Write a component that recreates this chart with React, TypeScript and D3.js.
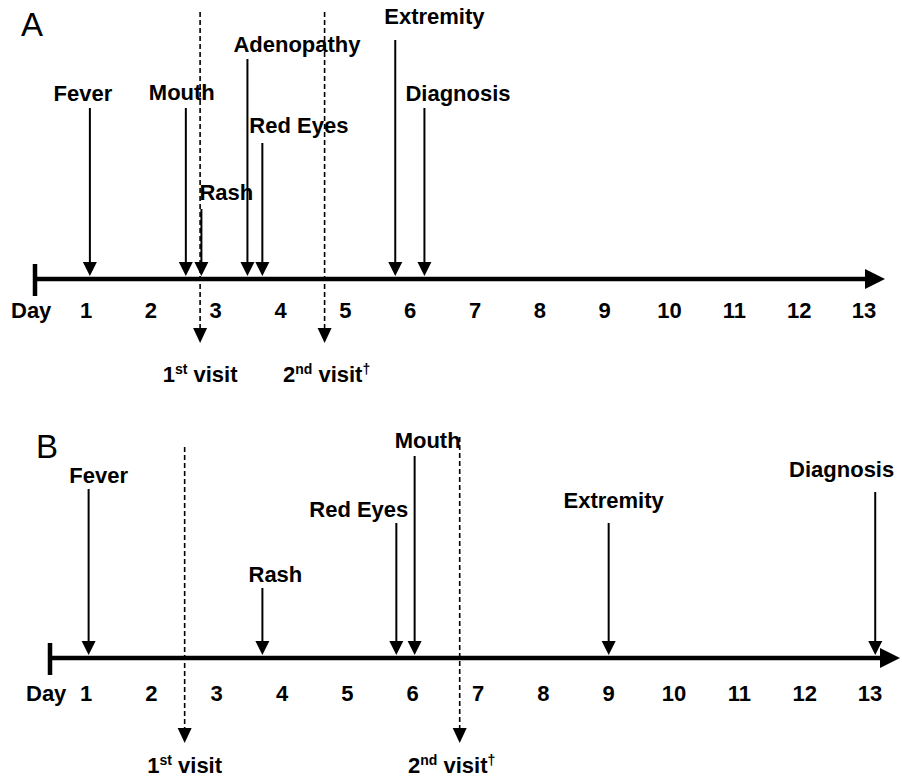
import * as d3 from "d3";

// day numbers under the time axis
const dayTicks = [1, 2, 3, 4, 5, 6, 7, 8, 9, 10, 11, 12, 13];

// panel A: symptom onset (in days)
const eventsA = ["Fever", "Mouth", "Rash", "Adenopathy", "Red Eyes", "Extremity", "Diagnosis"];
const eventDaysA = [1.06, 2.54, 2.78, 3.49, 3.72, 5.77, 6.22];
const visitDaysA = [2.76, 4.68];

// panel B
const eventsB = ["Fever", "Rash", "Red Eyes", "Mouth", "Extremity", "Diagnosis"];
const eventDaysB = [1.04, 3.7, 5.75, 6.03, 9.0, 13.08];
const visitDaysB = [2.51, 6.72];

// number, superscript, trailing mark
const visitLabels = [
  ["1", "st", ""],
  ["2", "nd", "†"],
];

type Anchor = "start" | "middle" | "end";
type LabelPos = { anchor: Anchor; dx: number; y: number; top: number };

// where each label sits relative to its arrow (layout only)
const layoutA: Record<string, LabelPos> = {
  Fever: { anchor: "middle", dx: -7, y: 101, top: 108 },
  Mouth: { anchor: "middle", dx: -4, y: 100, top: 108 },
  Rash: { anchor: "start", dx: -2, y: 200, top: 209 },
  Adenopathy: { anchor: "start", dx: -14, y: 52, top: 59 },
  "Red Eyes": { anchor: "start", dx: -13, y: 133, top: 143 },
  Extremity: { anchor: "start", dx: -11, y: 24, top: 40 },
  Diagnosis: { anchor: "start", dx: -19, y: 101, top: 108 },
};

const layoutB: Record<string, LabelPos> = {
  Fever: { anchor: "middle", dx: 10, y: 483, top: 489 },
  Rash: { anchor: "middle", dx: 13, y: 582, top: 588 },
  "Red Eyes": { anchor: "end", dx: 12, y: 517, top: 523 },
  Mouth: { anchor: "start", dx: -20, y: 448, top: 456 },
  Extremity: { anchor: "middle", dx: 5, y: 508, top: 523 },
  Diagnosis: { anchor: "end", dx: 19, y: 477, top: 492 },
};

const FONT = "'Liberation Sans', Arial, Helvetica, sans-serif";
const FS = 22;

type TimelineProps = {
  letter: string;
  letterY: number;
  axisY: number;
  barX: number;
  tipX: number;
  range: [number, number];
  dayY: number;
  events: string[];
  eventDays: number[];
  layout: Record<string, LabelPos>;
  visitDays: number[];
  visitTops: number[];
  visitTipY: number;
  visitLabelY: number;
  visitDx: number[];
};

function tri(x: number, tipY: number, half: number, h: number) {
  return `M${x - half},${tipY - h}L${x + half},${tipY - h}L${x},${tipY}Z`;
}

function Timeline(p: TimelineProps) {
  const x = d3.scaleLinear().domain([1, 13]).range(p.range);
  const tipY = p.axisY - 3;

  return (
    <g fontFamily={FONT}>
      <text x={p.barX - 14} y={p.letterY} fontSize={33}>
        {p.letter}
      </text>

      {/* visits: dashed arrows crossing the axis */}
      {p.visitDays.map((d, i) => {
        const vx = x(d);
        const lab = visitLabels[i];
        return (
          <g key={"v" + i}>
            <line
              x1={vx}
              x2={vx}
              y1={p.visitTops[i]}
              y2={p.visitTipY - 14}
              stroke="#000"
              strokeWidth={1.6}
              strokeDasharray="5,3"
            />
            <path d={tri(vx, p.visitTipY, 7, 15)} fill="#000" />
            <text
              x={vx + p.visitDx[i]}
              y={p.visitLabelY}
              textAnchor="middle"
              fontSize={FS}
              fontWeight="bold"
            >
              {lab[0]}
              <tspan fontSize={14} dy={-8}>{lab[1]}</tspan>
              <tspan dy={8}> visit</tspan>
              {lab[2] && <tspan fontSize={14} dy={-8}>{lab[2]}</tspan>}
            </text>
          </g>
        );
      })}

      {/* main axis */}
      <line x1={p.barX} x2={p.tipX - 18} y1={p.axisY} y2={p.axisY} stroke="#000" strokeWidth={4.5} />
      <line x1={p.barX} x2={p.barX} y1={p.axisY - 15} y2={p.axisY + 17} stroke="#000" strokeWidth={4.5} />
      <path
        d={`M${p.tipX - 20},${p.axisY - 10}L${p.tipX},${p.axisY}L${p.tipX - 20},${p.axisY + 10}Z`}
        fill="#000"
      />

      <g fontSize={FS} fontWeight="bold">
        <text x={p.barX - 24} y={p.dayY}>Day</text>
        {dayTicks.map((d) => (
          <text key={d} x={x(d)} y={p.dayY} textAnchor="middle">
            {d}
          </text>
        ))}
      </g>

      {/* symptom arrows */}
      {p.events.map((name, i) => {
        const ex = x(p.eventDays[i]);
        const l = p.layout[name];
        return (
          <g key={name}>
            <line x1={ex} x2={ex} y1={l.top} y2={tipY - 12} stroke="#000" strokeWidth={2} />
            <path d={tri(ex, tipY, 7, 14)} fill="#000" />
            <text x={ex + l.dx} y={l.y} textAnchor={l.anchor} fontSize={FS} fontWeight="bold">
              {name}
            </text>
          </g>
        );
      })}
    </g>
  );
}

export default function App() {
  return (
    <svg
      width={902}
      height={779}
      style={{ position: "absolute", left: 0, top: 0, background: "#fff" }}
    >
      <rect width={902} height={779} fill="#fff" />
      <Timeline
        letter="A"
        letterY={36}
        axisY={279}
        barX={35}
        tipX={885}
        range={[86, 864]}
        dayY={318}
        events={eventsA}
        eventDays={eventDaysA}
        layout={layoutA}
        visitDays={visitDaysA}
        visitTops={[12, 12]}
        visitTipY={343}
        visitLabelY={382}
        visitDx={[0, 2]}
      />
      <Timeline
        letter="B"
        letterY={458}
        axisY={658}
        barX={50}
        tipX={900}
        range={[86, 870]}
        dayY={701}
        events={eventsB}
        eventDays={eventDaysB}
        layout={layoutB}
        visitDays={visitDaysB}
        visitTops={[447, 437]}
        visitTipY={743}
        visitLabelY={773}
        visitDx={[0, -8]}
      />
    </svg>
  );
}
